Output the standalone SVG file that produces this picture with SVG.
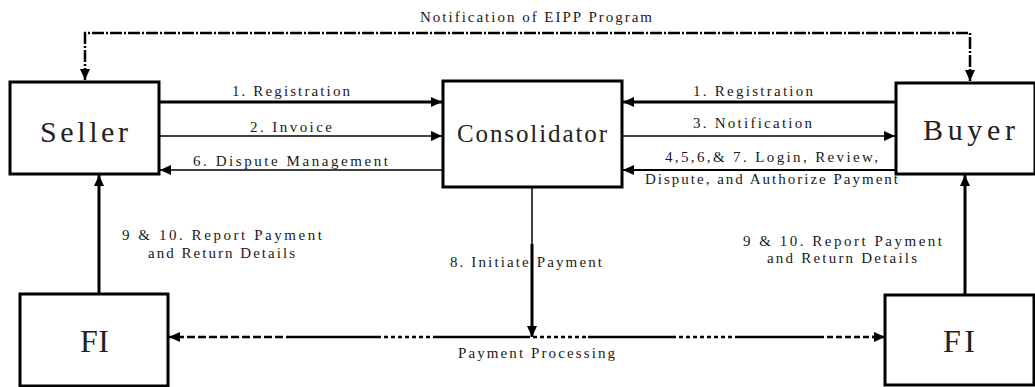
<svg xmlns="http://www.w3.org/2000/svg" width="1035" height="387" viewBox="0 0 1035 387">
<defs>
<marker id="ah" markerUnits="userSpaceOnUse" markerWidth="11" markerHeight="10" refX="11" refY="5" orient="auto-start-reverse">
<path d="M0,0 L11,5 L0,10 z" fill="#000"/>
</marker>
<style>
.box{fill:#fff;stroke:#000;stroke-width:3}
.big{font-family:"Liberation Serif","Times New Roman",serif;fill:#222}
.lbl{font-family:"Liberation Serif","Times New Roman",serif;font-size:15px;fill:#1a1a1a}
.c{fill:none;stroke:#000}
.thick{stroke-width:3}
.thin{stroke-width:1.5}
.arr{marker-end:url(#ah)}
</style>
</defs>
<rect width="1035" height="387" fill="#fff"/>

<g id="connectors">
<path class="c" d="M85,80 V33 H970 V81" stroke-width="2.5" stroke-dasharray="12,2,2,2" marker-start="url(#ah)" marker-end="url(#ah)"/>
<path class="c thick arr" d="M160,102 H442"/>
<path class="c thin arr" d="M160,136 H442"/>
<path class="c thin arr" d="M443,170 H160"/>
<path class="c thick arr" d="M895,102 H623"/>
<path class="c thin arr" d="M622,136 H895"/>
<path class="c arr" stroke-width="2" d="M895,170 H623"/>
<path class="c thick arr" d="M99,293 V175"/>
<path class="c thick arr" d="M965,294 V175"/>
<path class="c thin" d="M532,187 V244"/>
<path class="c thick arr" d="M532,244 V337"/>
<g class="c" stroke-width="2.5">
<path d="M176,337 H290" stroke-dasharray="8,3"/>
<path d="M290,337 H377"/>
<path d="M377,337 H437" stroke-dasharray="4,3"/>
<path d="M437,337 H526"/>
<path d="M526,337 H588" stroke-dasharray="4,3"/>
<path d="M588,337 H672"/>
<path d="M672,337 H735" stroke-dasharray="4,3"/>
<path d="M735,337 H818"/>
<path d="M818,337 H876" stroke-dasharray="6,3"/>
<path class="arr" d="M180,337 H169"/>
<path class="arr" d="M872,337 H885"/>
</g>
</g>

<g id="seller">
<rect class="box" x="10" y="82" width="149" height="92"/>
<text class="big" x="40" y="142" font-size="30" textLength="88" lengthAdjust="spacing">Seller</text>
</g>
<g id="consolidator">
<rect class="box" x="443" y="81" width="179" height="106"/>
<text class="big" x="457" y="142" font-size="25" textLength="150" lengthAdjust="spacing">Consolidator</text>
</g>
<g id="buyer">
<rect class="box" x="896" y="83" width="139" height="91"/>
<text class="big" x="923" y="140" font-size="30" textLength="92" lengthAdjust="spacing">Buyer</text>
</g>
<g id="fi-left">
<rect class="box" x="20" y="294" width="148" height="92"/>
<text class="big" x="80" y="352" font-size="32" textLength="29" lengthAdjust="spacing">FI</text>
</g>
<g id="fi-right">
<rect class="box" x="885" y="295" width="149" height="90"/>
<text class="big" x="943" y="352" font-size="32" textLength="32" lengthAdjust="spacing">FI</text>
</g>

<g id="labels">
<text class="lbl" x="420" y="22" textLength="232" lengthAdjust="spacing">Notification of EIPP Program</text>
<text class="lbl" x="232" y="96" textLength="118" lengthAdjust="spacing">1. Registration</text>
<text class="lbl" x="250" y="132" textLength="82" lengthAdjust="spacing">2. Invoice</text>
<text class="lbl" x="193" y="166" textLength="195" lengthAdjust="spacing">6. Dispute Management</text>
<text class="lbl" x="693" y="96" textLength="120" lengthAdjust="spacing">1. Registration</text>
<text class="lbl" x="693" y="128" textLength="119" lengthAdjust="spacing">3. Notification</text>
<text class="lbl" x="665" y="162" textLength="213" lengthAdjust="spacing">4,5,6,&amp; 7. Login, Review,</text>
<text class="lbl" x="645" y="184" textLength="253" lengthAdjust="spacing">Dispute, and Authorize Payment</text>
<text class="lbl" x="122" y="240" textLength="200" lengthAdjust="spacing">9 &amp; 10. Report Payment</text>
<text class="lbl" x="148" y="258" textLength="147" lengthAdjust="spacing">and Return Details</text>
<text class="lbl" x="743" y="246" textLength="199" lengthAdjust="spacing">9 &amp; 10. Report Payment</text>
<text class="lbl" x="767" y="263" textLength="150" lengthAdjust="spacing">and Return Details</text>
<text class="lbl" x="450" y="267" textLength="152" lengthAdjust="spacing">8. Initiate Payment</text>
<text class="lbl" x="458" y="358" textLength="157" lengthAdjust="spacing">Payment Processing</text>
</g>
</svg>
